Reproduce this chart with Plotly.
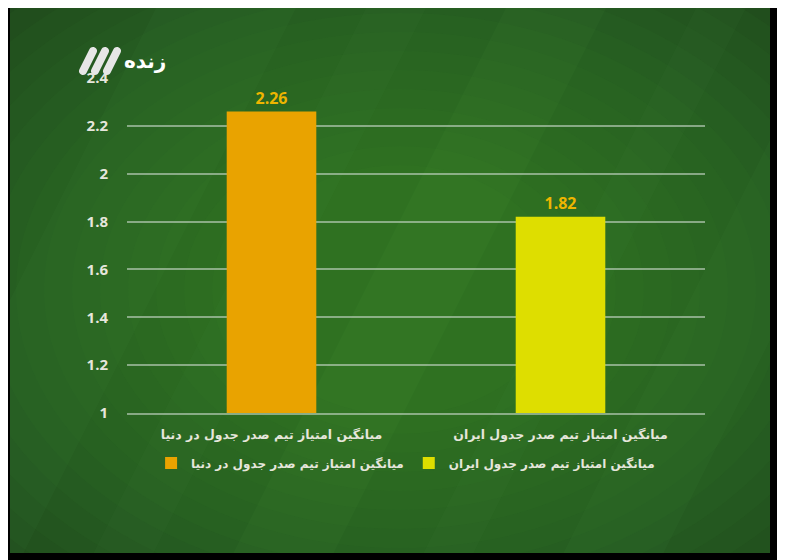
import math
import plotly.graph_objects as go

# ---- data ----
categories = ["میانگین امتیاز تیم صدر جدول در دنیا", "میانگین امتیاز تیم صدر جدول ایران"]
values = [2.26, 1.82]
bar_colors = ["#E9A300", "#DEDE00"]
value_labels = ["2.26", "1.82"]
y_ticks = [1, 1.2, 1.4, 1.6, 1.8, 2, 2.2, 2.4]
logo_text = "زنده"

# figure is placed 8px into the page by the body margin
W, H = 777, 552
L, R, T, B = 119, 80, 70, 147
PW, PH = W - L - R, H - T - B

def px(sx):
    return (sx - 8 - L) / PW

def py(sy):
    return (H - B - (sy - 8)) / PH

fig = go.Figure()
for cat, val, col, lab in zip(categories, values, bar_colors, value_labels):
    fig.add_trace(go.Bar(
        x=[cat], y=[val], name=cat, marker=dict(color=col, line=dict(width=0)),
        width=0.31, text=[lab], textposition="outside", cliponaxis=False,
        textfont=dict(family="Open Sans", size=16, color="#EEB500", weight="bold"),
    ))

shapes = []
# green board
shapes.append(dict(type="rect", xref="paper", yref="paper", layer="below",
                   x0=px(0), x1=px(790), y0=py(565), y1=py(0),
                   fillcolor="#1D461B", line=dict(width=0)))
# brighter centre (stacked translucent ellipses)
cx, cy = 400, 290
N = 16
for i in range(N):
    rx = 580 - i * 28
    ry = 410 - i * 19
    shapes.append(dict(type="circle", xref="paper", yref="paper", layer="below",
                       x0=px(cx - rx), x1=px(cx + rx), y0=py(cy + ry), y1=py(cy - ry),
                       fillcolor="rgba(60,140,55,0.063)", line=dict(width=0)))
# subtle diagonal chalkboard streaks
bands = [(-120, 20, 0.03), (90, 150, 0.025), (230, 330, 0.035), (420, 470, 0.025), (560, 660, 0.03)]
for x0, x1, a in bands:
    path = "M {a0},{b0} L {a1},{b0} L {a2},{b1} L {a3},{b1} Z".format(
        a0=px(x0 + 280), a1=px(x1 + 280), a2=px(x1), a3=px(x0),
        b0=py(0), b1=py(560))
    shapes.append(dict(type="path", xref="paper", yref="paper", layer="below",
                       path=path, fillcolor="rgba(140,220,120,%g)" % a, line=dict(width=0)))
# black frame
for (x0, x1, y0, y1) in [(0, 10, 0, 560), (770, 790, 0, 560), (0, 790, 553, 565), (0, 790, 0, 2)]:
    shapes.append(dict(type="rect", xref="paper", yref="paper", layer="below",
                       x0=px(x0), x1=px(x1), y0=py(y1), y1=py(y0),
                       fillcolor="#000000", line=dict(width=0)))

# logo slashes (rounded capsules)
def capsule(xb, yb, xt, yt, r):
    dx, dy = xt - xb, yt - yb
    n = math.hypot(dx, dy)
    ux, uy = dx / n, dy / n
    nx, ny = -uy, ux
    k = r * 1.33
    a = (xb + nx * r, yb + ny * r)
    b = (xt + nx * r, yt + ny * r)
    c = (xt - nx * r, yt - ny * r)
    d = (xb - nx * r, yb - ny * r)
    def P(p):
        return "%f,%f" % (px(p[0]), py(p[1]))
    s = "M " + P(a) + " L " + P(b)
    s += " C " + P((b[0] + ux * k, b[1] + uy * k)) + " " + P((c[0] + ux * k, c[1] + uy * k)) + " " + P(c)
    s += " L " + P(d)
    s += " C " + P((d[0] - ux * k, d[1] - uy * k)) + " " + P((a[0] - ux * k, a[1] - uy * k)) + " " + P(a)
    s += " Z"
    return s

for i in range(3):
    xb = 83 + i * 12
    shapes.append(dict(type="path", xref="paper", yref="paper", layer="above",
                       path=capsule(xb, 71, xb + 10, 51, 4.0),
                       fillcolor="#E6E6E6", line=dict(width=0)))

fig.update_layout(
    width=W, height=H,
    margin=dict(l=L, r=R, t=T, b=B),
    paper_bgcolor="#000000",
    plot_bgcolor="rgba(0,0,0,0)",
    barmode="overlay",
    showlegend=True,
    legend=dict(orientation="h", x=0.482, xanchor="center", y=py(463), yanchor="middle",
                font=dict(family="DejaVu Sans", size=12, color="#E6E6DC", weight="bold"),
                bgcolor="rgba(0,0,0,0)", itemwidth=30),
    shapes=shapes,
    annotations=[dict(text=logo_text, xref="paper", yref="paper", x=px(122), y=py(61),
                      xanchor="left", yanchor="middle", showarrow=False,
                      font=dict(family="DejaVu Sans", size=20, color="#FFFFFF", weight="bold"))],
    xaxis=dict(showgrid=False, showline=True, linecolor="rgba(200,215,200,0.6)", linewidth=2,
               ticks="", ticklabelstandoff=9,
               tickfont=dict(family="DejaVu Sans", size=12.5, color="#E6E6DC", weight="bold"),
               fixedrange=True),
    yaxis=dict(range=[1, 2.4], tickvals=y_ticks, showgrid=True,
               gridcolor="rgba(200,215,200,0.6)", gridwidth=2, zeroline=False, showline=False,
               ticks="", ticklabelstandoff=18,
               tickfont=dict(family="Open Sans", size=15, color="#E6E6DC", weight="bold")),
)

fig.write_html("out.html")
